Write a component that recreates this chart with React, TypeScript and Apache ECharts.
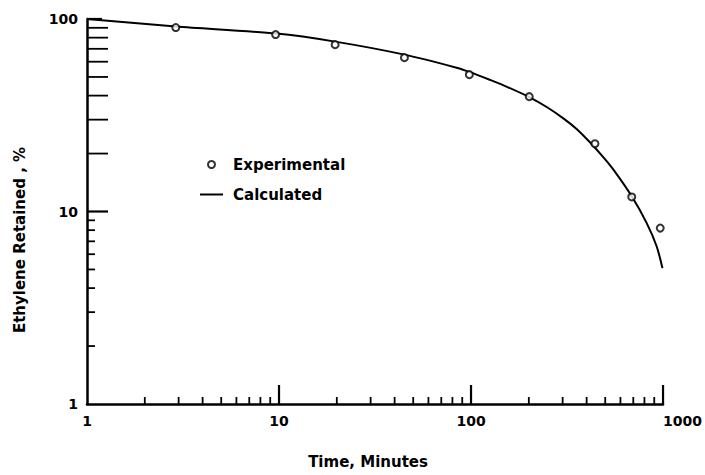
import React, { useEffect, useRef } from "react";
import * as echarts from "echarts";

// Experimental points (time in minutes, ethylene retained %)
const expTime = [2.9, 9.6, 19.6, 45, 98, 201, 442, 687, 967];
const expValue = [90.3, 83.0, 73.6, 63.0, 51.4, 39.5, 22.5, 11.9, 8.2];

// Calculated curve
const calcTime = [1, 2.9, 9.7, 19.6, 45, 85, 98, 126, 155, 201, 249, 305, 357, 416, 492, 554, 687, 821, 925, 993];
const calcValue = [100, 91.4, 84.0, 76.3, 65.3, 55.7, 53.1, 48.2, 44.3, 39.3, 34.8, 30.3, 26.7, 22.9, 19.0, 16.4, 12.0, 8.73, 6.62, 5.08];

// Tick values
const xMinorTicks = [2, 3, 4, 5, 6, 7, 8, 9, 20, 30, 40, 50, 60, 70, 80, 90, 200, 300, 400, 500, 600, 700, 800, 900];
const xMajorTicks = [10, 100, 1000];
const yMinorTicks = [2, 3, 4, 5, 6, 7, 8, 9, 20, 30, 40, 50, 60, 70, 80, 90];
const yMajorTicks = [10, 100];

const FONT = "DejaVu Sans";

export default function App() {
  const ref = useRef<HTMLDivElement>(null);

  useEffect(() => {
    if (!ref.current) return;
    const chart = echarts.init(ref.current, null, { renderer: "svg" });

    const xTickItem = (len: number, width: number) => (params: any, api: any) => {
      const v = api.value(0);
      const p = api.coord([v, 1]);
      return {
        type: "line",
        shape: { x1: p[0], y1: p[1], x2: p[0], y2: p[1] - len },
        style: { stroke: "#000", lineWidth: width },
      };
    };
    const yTickItem = (width: number) => (params: any, api: any) => {
      const v = api.value(1);
      const p = api.coord([1, v]);
      const len = v >= 100 ? 15 : v >= 10 ? 21 : 8;
      return {
        type: "line",
        shape: { x1: p[0], y1: p[1], x2: p[0] + len, y2: p[1] },
        style: { stroke: "#000", lineWidth: width },
      };
    };

    const labelStyle = {
      fontFamily: FONT,
      fontWeight: "bold" as const,
      fontSize: 14,
      color: "#000",
    };

    chart.setOption({
      animation: false,
      backgroundColor: "#fff",
      grid: { left: 87, top: 19, width: 579, height: 385 },
      legend: {
        orient: "vertical",
        left: 195,
        top: 152,
        itemWidth: 23,
        itemHeight: 7,
        itemGap: 15,
        data: [
          { name: "Experimental", icon: "emptyCircle" },
          { name: "Calculated", icon: "path://M0,0 L23,0 L23,2 L0,2 Z" },
        ],
        textStyle: {
          fontFamily: FONT,
          fontWeight: "bold",
          fontSize: 15,
          color: "#000",
          padding: [0, 0, 0, 5],
        },
      },
      xAxis: {
        type: "log",
        logBase: 10,
        min: 1,
        max: 1000,
        name: "Time, Minutes",
        nameLocation: "middle",
        nameGap: 50,
        nameTextStyle: {
          fontFamily: FONT,
          fontWeight: "bold",
          fontSize: 15,
          color: "#000",
          padding: [0, 14, 0, 0],
        },
        axisLine: { show: true, lineStyle: { color: "#000", width: 2.5 } },
        axisTick: { show: false },
        minorTick: { show: false },
        splitLine: { show: false },
        axisLabel: {
          ...labelStyle,
          margin: 10,
          alignMaxLabel: "left",
          formatter: (v: number) => String(Math.round(v)),
        },
      },
      yAxis: {
        type: "log",
        logBase: 10,
        min: 1,
        max: 100,
        axisLine: { show: true, lineStyle: { color: "#000", width: 2.5 } },
        axisTick: { show: false },
        minorTick: { show: false },
        splitLine: { show: false },
        axisLabel: {
          ...labelStyle,
          margin: 9,
          padding: [6, 0, 0, 0],
          formatter: (v: number) => String(Math.round(v)),
        },
      },
      graphic: [
        {
          type: "text",
          x: 20,
          y: 240,
          rotation: Math.PI / 2,
          style: {
            text: "Ethylene Retained , %",
            fontFamily: FONT,
            fontWeight: "bold",
            fontSize: 15,
            fill: "#000",
            align: "center",
            verticalAlign: "middle",
          },
        },
      ],
      series: [
        {
          name: "Calculated",
          type: "line",
          data: calcTime.map((t, i) => [t, calcValue[i]]),
          smooth: 0.3,
          symbol: "none",
          showSymbol: false,
          lineStyle: { color: "#000", width: 2 },
          itemStyle: { color: "#000" },
          z: 3,
        },
        {
          name: "Experimental",
          type: "scatter",
          data: expTime.map((t, i) => [t, expValue[i]]),
          symbol: "emptyCircle",
          symbolSize: 7,
          itemStyle: { color: "#000", borderWidth: 1.3 },
          z: 4,
        },
        {
          type: "custom",
          silent: true,
          clip: false,
          renderItem: xTickItem(7, 1.8),
          data: xMinorTicks.map((v) => [v, 1]),
          z: 5,
        },
        {
          type: "custom",
          silent: true,
          clip: false,
          renderItem: xTickItem(19, 2.2),
          data: xMajorTicks.map((v) => [v, 1]),
          z: 5,
        },
        {
          type: "custom",
          silent: true,
          clip: false,
          renderItem: yTickItem(1.8),
          data: yMinorTicks.map((v) => [1, v]),
          z: 5,
        },
        {
          type: "custom",
          silent: true,
          clip: false,
          renderItem: yTickItem(2.2),
          data: yMajorTicks.map((v) => [1, v]),
          z: 5,
        },
      ],
    });

    return () => chart.dispose();
  }, []);

  return (
    <div
      ref={ref}
      style={{ position: "absolute", left: 0, top: 0, width: 705, height: 475, background: "#fff" }}
    />
  );
}
